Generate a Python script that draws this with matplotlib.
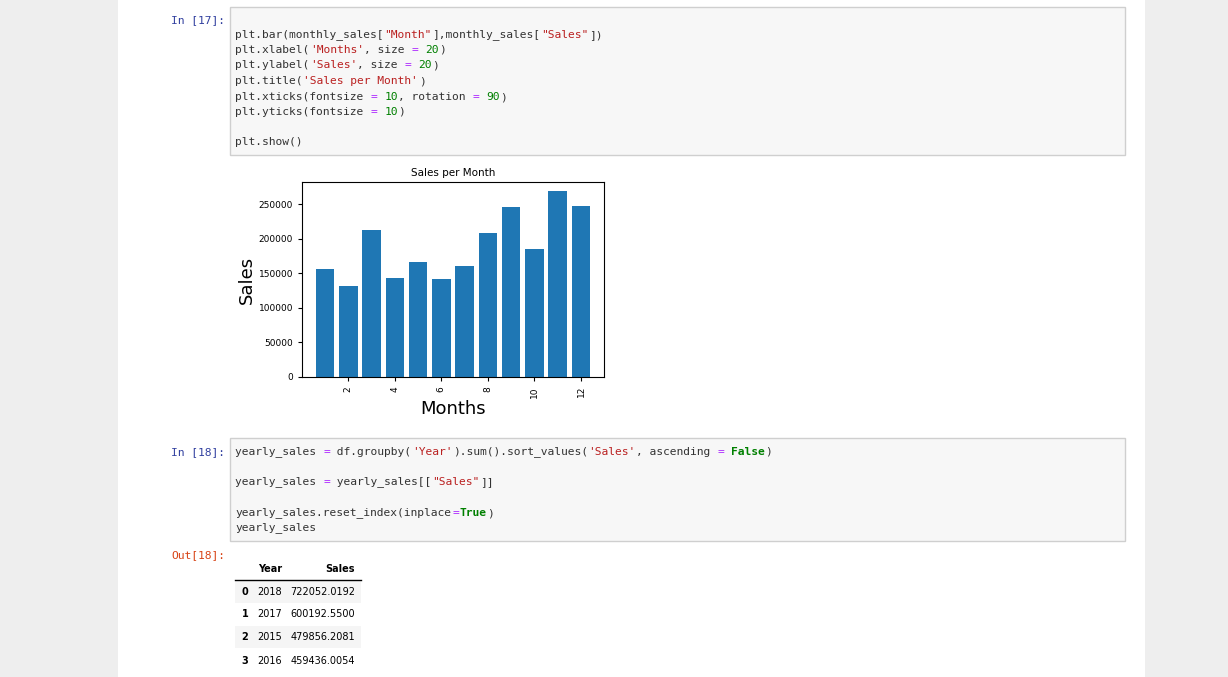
import matplotlib
matplotlib.use("Agg")
import matplotlib.pyplot as plt
from matplotlib.patches import Rectangle

months = [1, 2, 3, 4, 5, 6, 7, 8, 9, 10, 11, 12]
sales = [156000, 131700, 212000, 143300, 166800, 141800, 160100, 208200, 245700, 184600, 269200, 247100]
years = ["2018", "2017", "2015", "2016"]
year_sales = ["722052.0192", "600192.5500", "479856.2081", "459436.0054"]

W, H = 1228, 677
fig = plt.figure(figsize=(W / 100, H / 100), dpi=100)
fig.patch.set_facecolor("#eeeeee")
bg = fig.add_axes([0, 0, 1, 1])
bg.set_xlim(0, W); bg.set_ylim(H, 0); bg.axis("off")
bg.add_patch(Rectangle((118, 0), 1027, H, facecolor="white", edgecolor="none"))
bg.add_patch(Rectangle((230, 7), 895, 148, facecolor="#f7f7f7", edgecolor="#cfcfcf", lw=1))
bg.add_patch(Rectangle((230, 438), 895, 103, facecolor="#f7f7f7", edgecolor="#cfcfcf", lw=1))

mono = dict(family="DejaVu Sans Mono", fontsize=8.1, va="center")
bg.text(225, 20, "In [17]:", color="#303F9F", ha="right", **mono)
bg.text(225, 452, "In [18]:", color="#303F9F", ha="right", **mono)
bg.text(225, 555, "Out[18]:", color="#D84315", ha="right", **mono)

K = "#333333"; S = "#BA2121"; N = "#008000"; O = "#AA22FF"
cw = 6.8
def code(y, toks):
    x = 235
    for t, c, *b in toks:
        bg.text(x, y, t, color=c, ha="left", fontweight="bold" if b else "normal", **mono)
        x += cw * len(t)

code(35, [("plt.bar(monthly_sales[", K), ('"Month"', S), ("],monthly_sales[", K), ('"Sales"', S), ("])", K)])
code(50, [("plt.xlabel(", K), ("'Months'", S), (", size ", K), ("=", O), (" ", K), ("20", N), (")", K)])
code(65, [("plt.ylabel(", K), ("'Sales'", S), (", size ", K), ("=", O), (" ", K), ("20", N), (")", K)])
code(81, [("plt.title(", K), ("'Sales per Month'", S), (")", K)])
code(97, [("plt.xticks(fontsize ", K), ("=", O), (" ", K), ("10", N), (", rotation ", K), ("=", O), (" ", K), ("90", N), (")", K)])
code(112, [("plt.yticks(fontsize ", K), ("=", O), (" ", K), ("10", N), (")", K)])
code(142, [("plt.show()", K)])

code(452, [("yearly_sales ", K), ("=", O), (" df.groupby(", K), ("'Year'", S), (").sum().sort_values(", K), ("'Sales'", S),
           (", ascending ", K), ("=", O), (" ", K), ("False", N, 1), (")", K)])
code(482, [("yearly_sales ", K), ("=", O), (" yearly_sales[[", K), ('"Sales"', S), ("]]", K)])
code(513, [("yearly_sales.reset_index(inplace", K), ("=", O), ("True", N, 1), (")", K)])
code(528, [("yearly_sales", K)])

# table
tf = dict(family="DejaVu Sans", fontsize=7, va="center", color="black")
bg.text(270, 569, "Year", ha="center", fontweight="bold", **tf)
bg.text(355, 569, "Sales", ha="right", fontweight="bold", **tf)
bg.plot([235, 361], [580, 580], color="black", lw=1)
for i, (yv, sv) in enumerate(zip(years, year_sales)):
    yy = [592, 614, 637, 661][i]
    if i % 2 == 0:
        bg.add_patch(Rectangle((235, yy - 11), 126, 22, facecolor="#f5f5f5", edgecolor="none"))
    bg.text(245, yy, str(i), ha="center", fontweight="bold", **tf)
    bg.text(270, yy, yv, ha="center", **tf)
    bg.text(355, yy, sv, ha="right", **tf)

# chart
ax = fig.add_axes([302 / W, 1 - 377 / H, 302 / W, 195 / H])
ax.bar(months, sales, color="#1f77b4")
ax.set_title("Sales per Month", fontsize=7.5, pad=4)
ax.set_xlabel("Months", fontsize=13, labelpad=2)
ax.set_ylabel("Sales", fontsize=13, labelpad=2)
ax.set_xticks([2, 4, 6, 8, 10, 12])
ax.set_yticks([0, 50000, 100000, 150000, 200000, 250000])
ax.tick_params(axis="x", labelsize=6.5, rotation=90, length=3)
ax.tick_params(axis="y", labelsize=6.5, length=3)
ax.set_ylim(0, 282000)
fig.savefig("out.png", dpi=100, facecolor=fig.get_facecolor())
